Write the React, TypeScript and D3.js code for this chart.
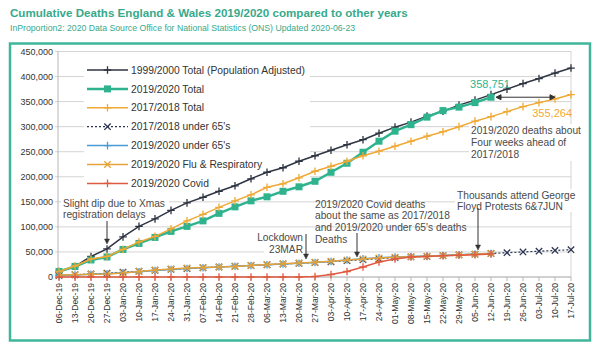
import * as d3 from "d3";

// weekly registration dates (category axis)
const dates = [
  "06-Dec-19", "13-Dec-19", "20-Dec-19", "27-Dec-19", "03-Jan-20", "10-Jan-20", "17-Jan-20",
  "24-Jan-20", "31-Jan-20", "07-Feb-20", "14-Feb-20", "21-Feb-20", "28-Feb-20", "06-Mar-20",
  "13-Mar-20", "20-Mar-20", "27-Mar-20", "03-Apr-20", "10-Apr-20", "17-Apr-20", "24-Apr-20",
  "01-May-20", "08-May-20", "15-May-20", "22-May-20", "29-May-20", "05-Jun-20", "12-Jun-20",
  "19-Jun-20", "26-Jun-20", "03-Jul-20", "10-Jul-20", "17-Jul-20",
];

const total1999 = [
  11000, 21000, 41000, 56000, 80000, 101000, 116000, 133000, 148000, 159000, 171000, 182000,
  196000, 209000, 218000, 231000, 242000, 253000, 264000, 274000, 287000, 299000, 309000,
  321000, 331000, 343000, 353000, 364000, 375000, 386000, 396000, 407000, 417000,
];
const total1920 = [
  11000, 21000, 34000, 40000, 55000, 67000, 79000, 91000, 101000, 112000, 127000, 140000,
  152000, 160000, 171000, 180000, 191000, 209000, 227000, 249000, 271000, 291000, 304000,
  319000, 332000, 339000, 348000, 358751,
];
const total1718 = [
  11000, 22000, 36000, 41000, 55000, 70000, 81000, 96000, 112000, 125000, 139000, 152000,
  164000, 179000, 186000, 198000, 211000, 221000, 231000, 242000, 251000, 261000, 271000,
  281000, 290000, 300000, 311000, 320000, 330000, 340000, 348000, 355264, 364000,
];
const under65_1718 = [
  3000, 4500, 6000, 7500, 9500, 11500, 13500, 15500, 17000, 18500, 20000, 21500, 23000,
  24500, 26000, 27500, 29000, 30500, 32500, 34500, 36500, 38500, 40000, 41000, 42500, 44000,
  45500, 47000, 48500, 50000, 51500, 53000, 54500,
];
const under65_1920 = [
  3000, 4000, 5500, 6500, 8500, 10500, 13000, 15000, 17000, 18500, 20000, 21500, 23000,
  24500, 26000, 27500, 29000, 31000, 34000, 36500, 38500, 40000, 41000, 42000, 43000, 44500,
  46000, 47000,
];
const flu1920 = [
  4000, 4500, 5500, 6000, 8000, 11000, 14000, 16000, 18000, 19000, 20000, 21000, 23000,
  25000, 26500, 28000, 29500, 31500, 34000, 36000, 38000, 39500, 40500, 41500, 42500, 44000,
  45500, 47000,
];
const covid1920 = [
  0, 0, 0, 0, 0, 0, 0, 0, 0, 0, 0, 0, 0, 0, 0, 0, 1000, 5000, 11000, 20000, 30000, 36000,
  40000, 41000, 42500, 43500, 44500, 46000,
];

const yTicks = [0, 50000, 100000, 150000, 200000, 250000, 300000, 350000, 400000, 450000];

const series = [
  { name: "1999/2000 Total (Population Adjusted)", values: total1999, color: "#2e3442", marker: "plus", width: 1.5 },
  { name: "2019/2020 Total", values: total1920, color: "#2fb38f", marker: "square", width: 2.5 },
  { name: "2017/2018 Total", values: total1718, color: "#f0a935", marker: "plus", width: 1.5 },
  { name: "2017/2018 under 65's", values: under65_1718, color: "#2b3550", marker: "cross", width: 1.2, dash: "2,2" },
  { name: "2019/2020 under 65's", values: under65_1920, color: "#4a9cd6", marker: "plus", width: 1.5 },
  { name: "2019/2020 Flu & Respiratory", values: flu1920, color: "#e5a33a", marker: "cross", width: 1.5 },
  { name: "2019/2020 Covid", values: covid1920, color: "#e05a40", marker: "plus", width: 1.5 },
];

const FONT = "'Liberation Sans', Arial, sans-serif";
const TEAL = "#37a98b";

const Marker = ({ type, x, y, color }: { type: string; x: number; y: number; color: string }) => {
  if (type === "square") return <rect x={x - 3.5} y={y - 3.5} width={7} height={7} fill={color} />;
  if (type === "cross") {
    const s = 3.2;
    return <path d={`M${x - s},${y - s}L${x + s},${y + s}M${x - s},${y + s}L${x + s},${y - s}`} stroke={color} strokeWidth={1.3} />;
  }
  const s = 3.8;
  return <path d={`M${x - s},${y}H${x + s}M${x},${y - s}V${y + s}`} stroke={color} strokeWidth={1.3} />;
};

const Note = ({ x, y, lines, anchor = "start", color = "#4a4a4a", size = 10.2, lh = 11.7, bg }: any) => (
  <g>
    {bg && <rect x={bg[0]} y={bg[1]} width={bg[2]} height={bg[3]} fill="#fff" />}
    {lines.map((l: string, i: number) => (
      <text key={i} x={x} y={y + i * lh} dy="0.35em" textAnchor={anchor} fontSize={size} fill={color} fontFamily={FONT}>
        {l}
      </text>
    ))}
  </g>
);

const Arrow = ({ x, y1, y2 }: { x: number; y1: number; y2: number }) => (
  <g stroke="#333" fill="#333">
    <line x1={x} x2={x} y1={y1} y2={y2 - 4} strokeWidth={1} />
    <path d={`M${x - 2.5},${y2 - 5}L${x + 2.5},${y2 - 5}L${x},${y2}Z`} strokeWidth={0.5} />
  </g>
);

export default function App() {
  const x = d3.scalePoint<string>().domain(dates).range([59, 571]);
  const y = d3.scaleLinear().domain([0, 450000]).range([277, 51.5]);
  const fmt = d3.format(",");
  const line = d3
    .line<number>()
    .x((_, i) => x(dates[i])!)
    .y((d) => y(d));

  const teal = series[1];
  const tealEnd = teal.values[teal.values.length - 1];
  const orange = series[2];
  const arrowY = y(tealEnd);
  const arrowX1 = x(dates[teal.values.length - 1])! + 5;
  const arrowX2 = x(dates[31])!;

  return (
    <svg width={600} height={351} style={{ position: "fixed", left: 0, top: 0, background: "#fff" }} fontFamily={FONT}>
      <rect width={600} height={351} fill="#fff" />
      <text x={10} y={17} fontSize={11.6} fontWeight="bold" fill={TEAL}>
        Cumulative Deaths England &amp; Wales 2019/2020 compared to other years
      </text>
      <text x={10} y={31} fontSize={8.7} fill={TEAL}>
        InProportion2: 2020 Data Source Office for National Statistics (ONS) Updated 2020-06-23
      </text>
      <rect x={10} y={43.5} width={580} height={297} fill="#fff" stroke="#3fb69a" strokeWidth={2.5} />

      {/* grid */}
      {yTicks.map((t) => (
        <g key={t}>
          <line x1={55} x2={571} y1={y(t)} y2={y(t)} stroke="#d4d4d4" strokeWidth={1} />
          <text x={53} y={y(t)} dy="0.35em" textAnchor="end" fontSize={9} fill="#333">
            {fmt(t)}
          </text>
        </g>
      ))}
      <line x1={58} x2={58} y1={y(450000)} y2={y(0)} stroke="#b8b8b8" />
      <line x1={571} x2={571} y1={y(450000)} y2={y(0)} stroke="#d4d4d4" />
      <line x1={58} x2={571} y1={y(0)} y2={y(0)} stroke="#b8b8b8" />
      {dates.map((d) => (
        <g key={d}>
          <line x1={x(d)} x2={x(d)} y1={y(0)} y2={y(0) + 4} stroke="#b8b8b8" />
          <text
            transform={`translate(${x(d)! + 3},${y(0) + 6}) rotate(-90)`}
            textAnchor="end"
            fontSize={8.6}
            fill="#333"
          >
            {d}
          </text>
        </g>
      ))}

      {/* legend box and annotation boxes (under the series) */}
      <rect x={84} y={60} width={226} height={132} fill="#fff" />
      <Note x={63} y={203} lines={["Slight dip due to Xmas", "registration delays"]} bg={[61, 196, 108, 25]} />
      <Note x={303} y={237.7} anchor="end" lines={["Lockdown", "23MAR"]} bg={[264, 231, 41, 24]} />
      <Note x={457} y={195} lines={["Thousands attend George", "Floyd Protests 6&7JUN"]} lh={11.3} bg={[455, 189, 122, 23]} />
      <Note x={471} y={130.7} lines={["2019/2020 deaths about", "Four weeks ahead of", "2017/2018"]} bg={[469, 124, 114, 37]} />
      <Note
        x={315}
        y={204}
        lines={["2019/2020 Covid deaths", "about the same as  2017/2018", "and 2019/2020 under 65's deaths", "Deaths"]}
      />

      {/* series */}
      {series.map((s) => (
        <g key={s.name}>
          <path d={line(s.values)!} fill="none" stroke={s.color} strokeWidth={s.width} strokeDasharray={s.dash} />
          {s.values.map((v, i) => (
            <Marker key={i} type={s.marker} x={x(dates[i])!} y={y(v)} color={s.color} />
          ))}
        </g>
      ))}

      {/* legend */}
      {series.map((s, i) => {
        const ly = 70 + i * 18.9;
        return (
          <g key={s.name}>
            <line x1={87} x2={128} y1={ly} y2={ly} stroke={s.color} strokeWidth={s.width} strokeDasharray={s.dash} />
            <Marker type={s.marker} x={107.5} y={ly} color={s.color} />
            <text x={131} y={ly} dy="0.35em" fontSize={10.3} fill="#333">
              {s.name}
            </text>
          </g>
        );
      })}

      {/* arrows */}
      <Arrow x={107} y1={221} y2={244} />
      <Arrow x={306} y1={234} y2={259} />
      <Arrow x={357} y1={233} y2={257} />
      <Arrow x={478} y1={208} y2={250} />
      <g stroke="#333" fill="#333">
        <line x1={arrowX1 + 4} x2={arrowX2 - 4} y1={arrowY} y2={arrowY} strokeWidth={1} />
        <path d={`M${arrowX2 - 5},${arrowY - 2.5}L${arrowX2 - 5},${arrowY + 2.5}L${arrowX2},${arrowY}Z`} />
        <path d={`M${arrowX1 + 5},${arrowY - 2.5}L${arrowX1 + 5},${arrowY + 2.5}L${arrowX1},${arrowY}Z`} />
      </g>

      {/* value labels */}
      <text x={490} y={84} dy="0.35em" textAnchor="middle" fontSize={11} fill={teal.color}>
        {fmt(tealEnd)}
      </text>
      <text x={572} y={112.7} dy="0.35em" textAnchor="end" fontSize={11} fill={orange.color}>
        {fmt(orange.values[31])}
      </text>
    </svg>
  );
}
